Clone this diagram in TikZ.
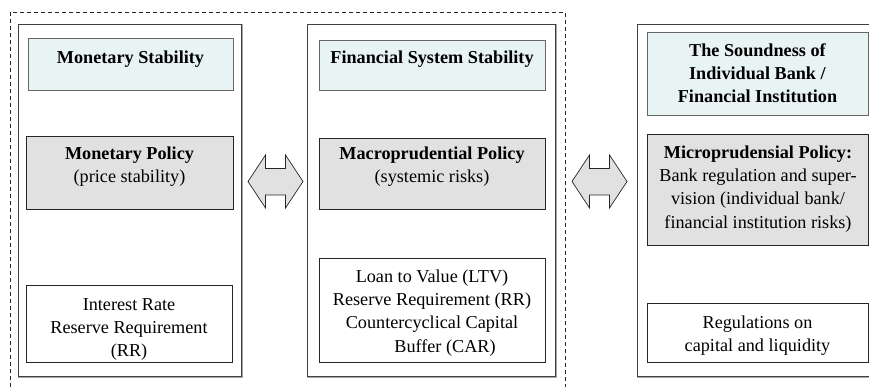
\documentclass[tikz,border=0pt]{standalone}
\usepackage{fontspec}
\setmainfont{Liberation Serif}
\definecolor{titlefill}{RGB}{232,243,243}
\definecolor{policyfill}{RGB}{225,225,225}
\definecolor{arrowfill}{RGB}{225,225,225}
\begin{document}
\begin{tikzpicture}[x=1pt,y=-1pt,
  txt/.style={font=\fontsize{18.2}{23.3}\selectfont, align=center, inner sep=0pt, anchor=north},
  colbox/.style={draw=black!75, line width=0.9pt, fill=white, rectangle, inner sep=0pt},
  titlebox/.style={draw=black!60, line width=0.9pt, fill=titlefill},
  policybox/.style={draw=black!85, line width=0.9pt, fill=policyfill},
  toolbox/.style={draw=black!85, line width=0.9pt, fill=white},
  dblarrow/.style={draw=black!85, line width=0.7pt, fill=arrowfill, line join=miter},
  outerdash/.style={draw=black!85, line width=0.7pt, dash pattern=on 4pt off 3pt}
]
\useasboundingbox (0,0) rectangle (869,387);
\clip (0,0) rectangle (869,387);
% dashed outer frame
\draw[outerdash] (10,12) rectangle (565,395);
% column boxes
\draw[colbox, draw=black!35, line width=1.2pt] (19,25) rectangle (242,377);
\node[colbox, minimum width=223pt, minimum height=352pt, anchor=north west] (L) at (18,24) {};
\draw[colbox, draw=black!35, line width=1.2pt] (308,25) rectangle (556,377);
\node[colbox, minimum width=248pt, minimum height=352pt, anchor=north west] (M) at (307,24) {};
\draw[colbox, draw=black!35, line width=1.2pt] (638,25) rectangle (890,377);
\node[colbox, minimum width=250pt, minimum height=352pt, anchor=north west] (R) at (637,24) {};
% left column
\draw[titlebox] (28,38) rectangle (233,90);
\node[txt] (ms) at (130.5,{63-16.31}) {\strut\textbf{Monetary Stability}};
\draw[policybox] (26,136) rectangle (233,209);
\node[txt] (mp) at (129.5,{159-16.31}) {\strut\textbf{Monetary Policy}\\(price stability)};
\draw[toolbox] (26,285) rectangle (232,362);
\node[txt] (ir) at (129,{310-16.31}) {\strut Interest Rate\\Reserve Requirement\\(RR)};
% middle column
\draw[titlebox] (319,40) rectangle (545,90);
\node[txt] (fss) at (432,{63-16.31}) {\strut\textbf{Financial System Stability}};
\draw[policybox] (319,138) rectangle (545,209);
\node[txt] (mac) at (432,{159-16.31}) {\strut\textbf{Macroprudential Policy}\\(systemic risks)};
\draw[toolbox] (319,258) rectangle (545,362);
\node[txt] (ltv) at (432,{282-16.31}) {\strut Loan to Value (LTV)\\Reserve Requirement (RR)\\Countercyclical Capital\\\hspace*{26pt}Buffer (CAR)};
% right column
\draw[titlebox] (647,32) rectangle (868,115);
\node[txt] (snd) at (757.5,{56-16.31}) {\strut\textbf{The Soundness of}\\\textbf{Individual Bank /}\\\textbf{Financial Institution}};
\draw[policybox] (647,134) rectangle (868,245);
\node[txt] (mic) at (758,{158-16.31}) {\strut\textbf{Microprudensial Policy:}\\Bank regulation and super-\\vision (individual bank/\\financial institution risks)};
\draw[toolbox] (647,303) rectangle (868,362);
\node[txt] (reg) at (757.5,{328-16.31}) {\strut Regulations on\\capital and liquidity};
% double arrows between columns
\coordinate (a1) at (275.5,181.5);
\coordinate (a2) at (599.5,181.5);
\foreach \c in {a1,a2}{
  \draw[dblarrow, shift={(\c)}]
    (-27.5,0) -- (-10,-26.5) -- (-10,-13) -- (10,-13) -- (10,-26.5) -- (27.5,0)
    -- (10,26.5) -- (10,13.5) -- (-10,13.5) -- (-10,26.5) -- cycle;
}
\end{tikzpicture}
\end{document}
